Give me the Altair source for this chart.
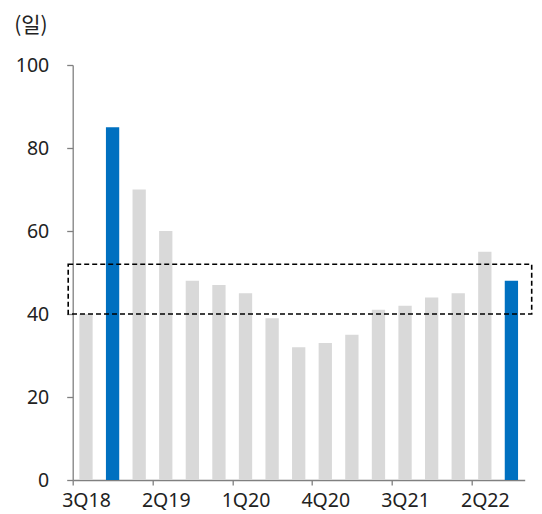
import altair as alt
import pandas as pd

quarters = ["3Q18", "4Q18", "1Q19", "2Q19", "3Q19", "4Q19", "1Q20", "2Q20", "3Q20",
            "4Q20", "1Q21", "2Q21", "3Q21", "4Q21", "1Q22", "2Q22", "3Q22"]
values = [40, 85, 70, 60, 48, 47, 45, 39, 32, 33, 35, 41, 42, 44, 45, 55, 48]
highlight = ["n", "y", "n", "n", "n", "n", "n", "n", "n", "n", "n", "n", "n", "n", "n", "n", "y"]
label_quarters = ["3Q18", "2Q19", "1Q20", "4Q20", "3Q21", "2Q22"]
y_ticks = [0, 20, 40, 60, 80, 100]
box_lo = [40]
box_hi = [52]

FONT = "Noto Sans"
W, H = 452, 415
STEP = W / 17

df = pd.DataFrame({"q": quarters, "v": values, "h": highlight})
box = pd.DataFrame({"lo": box_lo, "hi": box_hi})

bars = alt.Chart(df).mark_bar().encode(
    x=alt.X("q:N", sort=quarters, title=None,
            scale=alt.Scale(paddingInner=0.5, paddingOuter=0.25),
            axis=alt.Axis(values=label_quarters, labelAngle=0, tickOffset=-STEP / 2,
                          labelOffset=STEP / 2, tickSize=5, labelPadding=6)),
    y=alt.Y("v:Q", scale=alt.Scale(domain=[0, 100], nice=False),
            axis=alt.Axis(values=y_ticks, title="(일)", titleAngle=0, titleAlign="left",
                          titleBaseline="alphabetic", titleX=-59, titleY=-34,
                          titleFont="Noto Sans CJK KR", titleFontSize=21,
                          tickSize=6, labelPadding=18, grid=False)),
    color=alt.Color("h:N", scale=alt.Scale(domain=["n", "y"], range=["#d9d9d9", "#0070c0"]),
                    legend=None),
)

rect = alt.Chart(box).mark_rect(fill=None, stroke="black", strokeWidth=1.6,
                                strokeDash=[5, 3]).encode(
    y="lo:Q", y2="hi:Q", x=alt.value(-4.5), x2=alt.value(W + 7)
)

chart = alt.layer(bars, rect).properties(
    width=W, height=H,
    autosize=alt.AutoSizeParams(type="none"),
    padding={"left": 64.7, "top": 57, "right": 9.3, "bottom": 33},
).configure_view(stroke=None).configure_axis(
    labelFont=FONT, titleFont=FONT, labelFontSize=19.5, titleFontSize=18,
    titleFontWeight="normal", labelColor="#222", titleColor="#222",
    domainColor="#808080", tickColor="#808080", domainWidth=1.3, tickWidth=1.3,
)

chart.save("out.html", embed_options={"renderer": "svg", "actions": False})
